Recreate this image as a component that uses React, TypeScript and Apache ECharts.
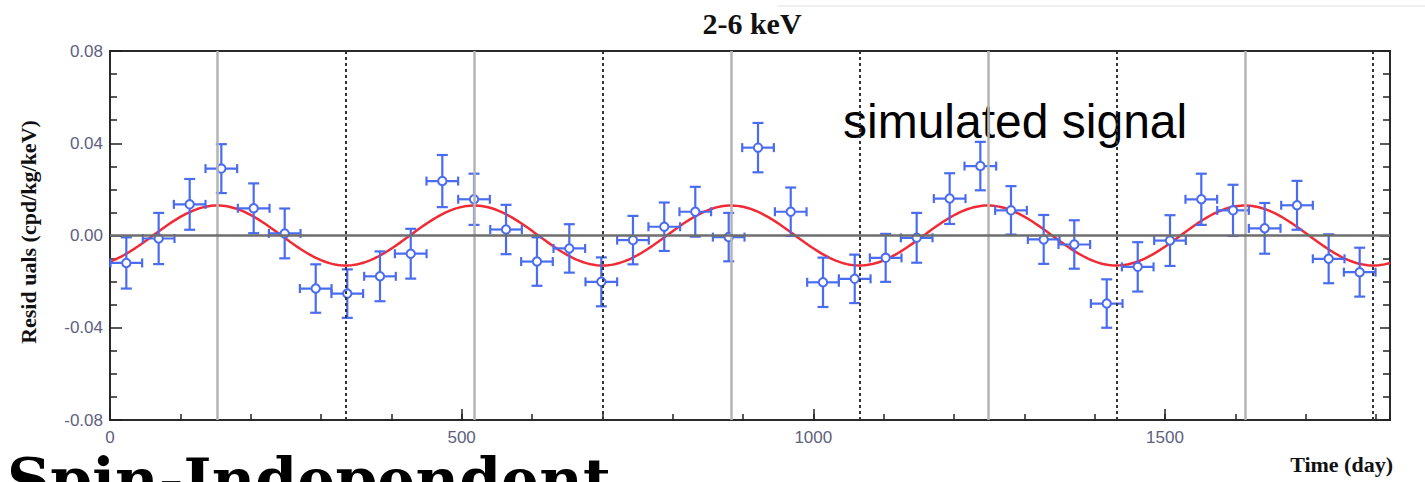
import React, { useEffect, useRef } from 'react';
import * as echarts from 'echarts';

// Residual rate per time bin (2-6 keV window)
const binCentres = [
  23.2, 69.2, 113.3, 158.3, 204.3, 248.4, 292.5, 337.4, 383.9, 427.6,
  472.5, 517.6, 563.1, 607.1, 653.1, 698.6, 743.6, 788.1, 832.2, 879.7,
  921.4, 967.9, 1013.8, 1058.9, 1102.9, 1147.0, 1193.9, 1237.5, 1281.1, 1327.6,
  1371.1, 1417.2, 1461.3, 1507.2, 1551.7, 1596.8, 1641.8, 1687.8, 1732.8, 1776.9,
];
const residuals = [
  -0.0119, -0.0013, 0.0135, 0.029, 0.0118, 0.0009, -0.023, -0.0252, -0.0177, -0.0079,
  0.0236, 0.0157, 0.0026, -0.0113, -0.0056, -0.0201, -0.002, 0.0038, 0.0103, -0.0007,
  0.0381, 0.0103, -0.0203, -0.0188, -0.0097, -0.001, 0.016, 0.0301, 0.0109, -0.0017,
  -0.0039, -0.0295, -0.0136, -0.0022, 0.0157, 0.0109, 0.0031, 0.0131, -0.0101, -0.0159,
];
const residualErrors = [
  0.0111, 0.0111, 0.011, 0.0106, 0.0108, 0.0108, 0.0105, 0.0105, 0.0108, 0.0108,
  0.0113, 0.0111, 0.0107, 0.0105, 0.0105, 0.0106, 0.0105, 0.0105, 0.0108, 0.0105,
  0.0107, 0.0105, 0.0107, 0.0105, 0.0104, 0.0108, 0.011, 0.0105, 0.0105, 0.0106,
  0.0105, 0.0105, 0.0107, 0.011, 0.0111, 0.0111, 0.011, 0.0106, 0.0106, 0.0106,
];
const binHalfWidth = 22.5;

// Annual-modulation model: A * cos(2π (t - t0) / T)
const signalAmplitude = 0.013;
const signalPeriod = 365.25;
const signalPhase = 152.5;

// Days of maximum (solid) and minimum (dashed) expected signal
const peakDays = [152.5, 517.75, 883, 1248.25, 1613.5];
const troughDays = [335.1, 700.4, 1065.6, 1430.9, 1796.1];

const timeMin = 0;
const timeMax = 1820;
const rateMin = -0.08;
const rateMax = 0.08;

const BLUE = '#4a6cf0';
const LABEL = '#5d6180';

export default function App() {
  const ref = useRef<HTMLDivElement>(null);

  useEffect(() => {
    if (!ref.current) return;
    const chart = echarts.init(ref.current, undefined, { renderer: 'svg' });

    const curve: number[][] = [];
    for (let t = timeMin; t <= timeMax; t += 4) {
      curve.push([t, signalAmplitude * Math.cos((2 * Math.PI * (t - signalPhase)) / signalPeriod)]);
    }

    const points = binCentres.map((t, i) => [t, residuals[i], residualErrors[i]]);

    const markLines: any[] = [
      ...peakDays.map((d) => ({ xAxis: d, lineStyle: { color: '#b4b4b4', width: 2.5, type: 'solid' } })),
      ...troughDays.map((d) => ({ xAxis: d, lineStyle: { color: '#333', width: 2, type: [3, 3] } })),
      { yAxis: 0, lineStyle: { color: '#6e6e6e', width: 2.5, type: 'solid' } },
    ];

    const tickLine = { color: '#222', width: 1.5 };

    const yAxisBase = {
      type: 'value',
      min: rateMin,
      max: rateMax,
      interval: 0.04,
      axisLine: { show: false, onZero: false },
      splitLine: { show: false },
      axisTick: { inside: true, length: 12, lineStyle: tickLine },
      minorTick: { show: true, splitNumber: 4, length: 7, lineStyle: tickLine },
    };

    chart.setOption({
      animation: false,
      backgroundColor: '#fff',
      grid: {
        left: 110,
        right: 35,
        top: 51,
        bottom: 62,
        show: true,
        borderColor: '#2a2a2a',
        borderWidth: 2,
      },
      xAxis: [
        {
          type: 'value',
          min: timeMin,
          max: timeMax,
          interval: 500,
          position: 'bottom',
          axisLine: { show: false, onZero: false },
          splitLine: { show: false },
          axisTick: { inside: true, length: 11, lineStyle: tickLine },
          axisLabel: {
            color: LABEL,
            fontSize: 17,
            fontFamily: 'Liberation Sans',
            margin: 9,
            showMaxLabel: false,
            formatter: (v: number) => (v % 500 === 0 ? String(v) : ''),
          },
        },
        {
          type: 'value',
          min: timeMin,
          max: timeMax,
          interval: 100,
          position: 'bottom',
          axisLine: { show: false, onZero: false },
          splitLine: { show: false },
          axisTick: { inside: true, length: 6, lineStyle: tickLine },
          axisLabel: { show: false },
        },
      ],
      yAxis: [
        {
          ...yAxisBase,
          position: 'left',
          axisLabel: {
            color: LABEL,
            fontSize: 17,
            fontFamily: 'Liberation Sans',
            margin: 7,
            formatter: (v: number) => v.toFixed(2),
          },
        },
        {
          ...yAxisBase,
          position: 'right',
          axisTick: { inside: true, length: 10, lineStyle: tickLine },
          axisLabel: { show: false },
        },
      ],
      series: [
        {
          name: 'simulated signal',
          type: 'line',
          xAxisIndex: 0,
          yAxisIndex: 0,
          data: curve,
          showSymbol: false,
          smooth: false,
          lineStyle: { color: '#f02b36', width: 2.5 },
          z: 2,
          markLine: {
            silent: true,
            symbol: ['none', 'none'],
            label: { show: false },
            data: markLines,
          },
        },
        {
          name: 'residuals',
          type: 'custom',
          xAxisIndex: 0,
          yAxisIndex: 0,
          data: points,
          encode: { x: 0, y: 1 },
          z: 3,
          renderItem: (_params: any, api: any) => {
            const t = api.value(0);
            const v = api.value(1);
            const e = api.value(2);
            const c = api.coord([t, v]);
            const top = api.coord([t, v + e]);
            const bot = api.coord([t, v - e]);
            const left = api.coord([t - binHalfWidth, v]);
            const right = api.coord([t + binHalfWidth, v]);
            const capW = 5.5;
            const capH = 4.5;
            const style = { stroke: BLUE, lineWidth: 2.2, fill: 'none' };
            const seg = (x1: number, y1: number, x2: number, y2: number) => ({
              type: 'line',
              shape: { x1, y1, x2, y2 },
              style,
            });
            return {
              type: 'group',
              children: [
                seg(top[0], top[1], bot[0], bot[1]),
                seg(top[0] - capW, top[1], top[0] + capW, top[1]),
                seg(bot[0] - capW, bot[1], bot[0] + capW, bot[1]),
                seg(left[0], left[1], right[0], right[1]),
                seg(left[0], left[1] - capH, left[0], left[1] + capH),
                seg(right[0], right[1] - capH, right[0], right[1] + capH),
                {
                  type: 'circle',
                  shape: { cx: c[0], cy: c[1], r: 4.2 },
                  style: { fill: '#fff', stroke: BLUE, lineWidth: 2 },
                },
              ],
            };
          },
        },
      ],
      graphic: [
        { type: 'rect', left: 777, top: 5, shape: { width: 648, height: 2 }, style: { fill: '#efefef' } },
        {
          type: 'text',
          x: 752,
          y: 23,
          style: {
            text: '2-6 keV',
            font: 'bold 30px "Liberation Serif"',
            fill: '#111',
            align: 'center',
            verticalAlign: 'middle',
          },
        },
        {
          type: 'text',
          x: 28,
          y: 232,
          rotation: Math.PI / 2,
          style: {
            text: 'Resid uals (cpd/kg/keV)',
            font: 'bold 22px "Liberation Serif"',
            fill: '#111',
            align: 'center',
            verticalAlign: 'middle',
          },
        },
        {
          type: 'text',
          x: 1393,
          y: 464,
          style: {
            text: 'Time (day)',
            font: 'bold 22px "Liberation Serif"',
            fill: '#111',
            align: 'right',
            verticalAlign: 'middle',
          },
        },
        {
          type: 'text',
          x: 843,
          y: 121,
          style: {
            text: 'simulated signal',
            font: '48px "Liberation Sans"',
            fill: '#000',
            align: 'left',
            verticalAlign: 'middle',
          },
        },
        {
          type: 'text',
          x: 7,
          y: 480,
          style: {
            text: 'Spin-Independent',
            font: 'bold 60px "DejaVu Serif"',
            fill: '#000',
            align: 'left',
            verticalAlign: 'middle',
          },
        },
      ],
    });

    return () => chart.dispose();
  }, []);

  return (
    <div
      ref={ref}
      style={{ position: 'absolute', left: 0, top: 0, width: 1425, height: 482 }}
    />
  );
}
